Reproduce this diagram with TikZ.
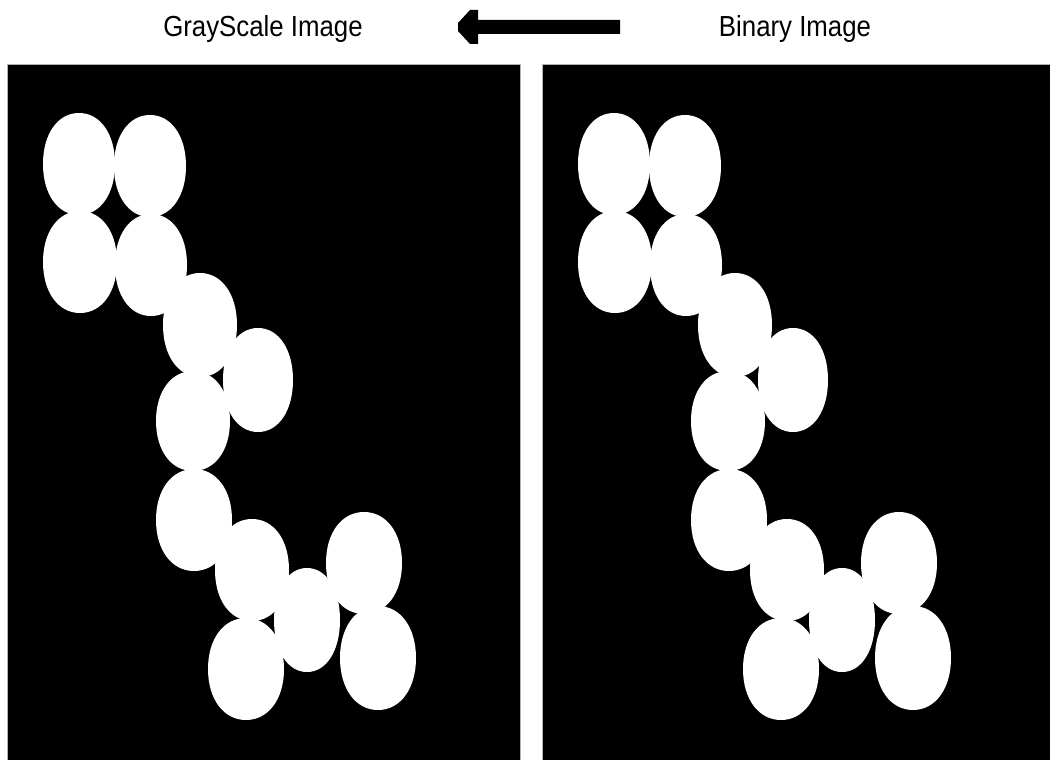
\documentclass[tikz,border=0pt]{standalone}
\usepackage{fontspec}
\setmainfont{Liberation Sans}
\usetikzlibrary{calc}
% a slightly blunt ellipse
\newcommand\blobshape[4]{%
  \fill[blob, shift={(#1,#2)}, xscale=#3, yscale=#4]
    (1,0) .. controls (1,0.59) and (0.59,1) .. (0,1)
          .. controls (-0.59,1) and (-1,0.59) .. (-1,0)
          .. controls (-1,-0.59) and (-0.59,-1) .. (0,-1)
          .. controls (0.59,-1) and (1,-0.59) .. (1,0) -- cycle;}
\newcommand\drawblobs{%
  \blobshape{79}{164}{36}{51}
  \blobshape{150}{166}{36}{51}
  \blobshape{80}{262}{37}{51}
  \blobshape{151}{265}{36}{51}
  \blobshape{200}{325}{37}{52}
  \blobshape{258}{380}{35}{52}
  \blobshape{193}{421}{37}{50}
  \blobshape{194}{520}{38}{51}
  \blobshape{252}{570}{37}{51}
  \blobshape{364}{563}{38}{51}
  \blobshape{307}{620}{33}{52}
  \blobshape{246}{669}{38}{51}
  \blobshape{378}{658}{38}{52}
}
\begin{document}
\begin{tikzpicture}[x=1pt,y=-1pt,
  panel/.style={fill=black, draw=gray!60, line width=0.8pt, anchor=north west, inner sep=0pt},
  blob/.style={fill=white},
  title/.style={font=\fontsize{29}{30}\selectfont, anchor=base, inner sep=0pt, xscale=0.89, transform shape}]
\useasboundingbox (0,0) rectangle (1050,760);
\fill[white] (0,0) rectangle (1050,760);
% titles
\node[title] (gray) at (263,37) {GrayScale Image};
\node[title] (bin) at (795,37) {Binary Image};
% arrow from Binary to GrayScale
\coordinate (arrowtail) at (620,27);
\coordinate (arrowtip) at (458,27);
\fill[black] ($(arrowtail)+(0,-7)$) -- (478,20) -- (478,10) -- (470,10) -- (458,23)
   -- (arrowtip) -- (458,31) -- (470,44) -- (478,44) -- (478,34) -- ($(arrowtail)+(0,7)$) -- cycle;
% panels
\node[panel, minimum width=513pt, minimum height=700pt] (leftpanel) at (7,64) {};
\node[panel, minimum width=520pt, minimum height=700pt] (rightpanel) at (542,64) {};
\begin{scope}
  \clip (7,64) rectangle (520,760);
  \drawblobs
\end{scope}
\begin{scope}[shift={(535,0)}]
  \clip (7,64) rectangle (520,760);
  \drawblobs
\end{scope}
\end{tikzpicture}
\end{document}
